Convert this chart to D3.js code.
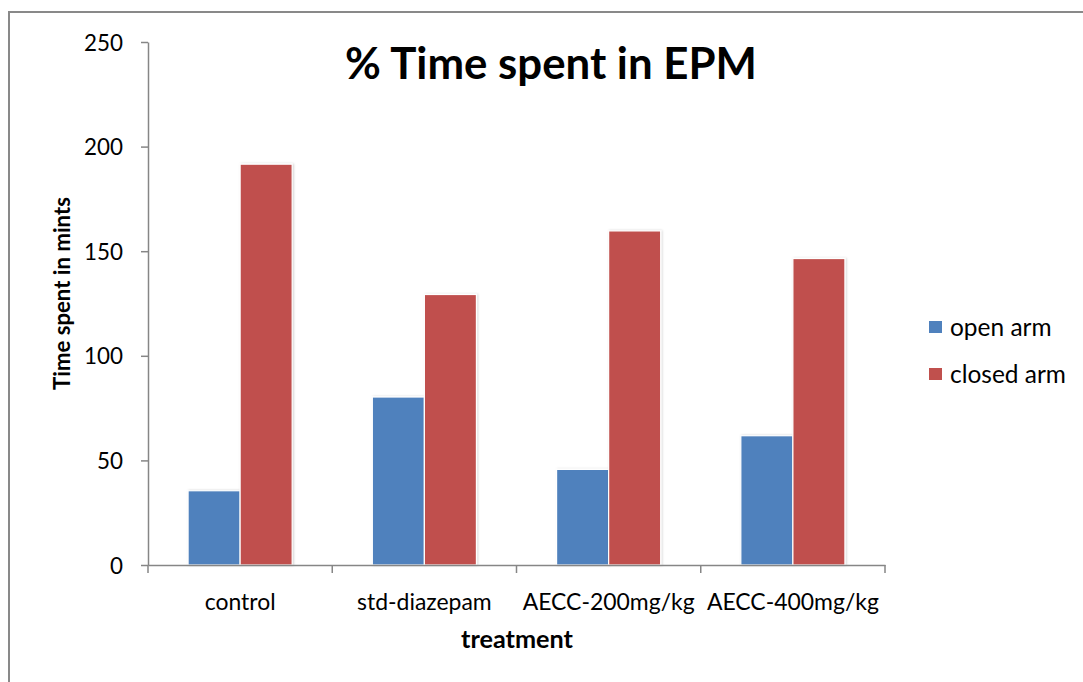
<!DOCTYPE html>
<html>
<head>
<meta charset="utf-8">
<script src="https://cdn.jsdelivr.net/npm/d3@7"></script>
<style>
  html, body { margin: 0; padding: 0; background: #fff; }
  svg { display: block; }
  text { font-family: Lato, "Open Sans", sans-serif; fill: #000; }
</style>
</head>
<body>
<svg id="chart" width="1083" height="682"></svg>
<script>
const categories = ["control", "std-diazepam", "AECC-200mg/kg", "AECC-400mg/kg"];
const seriesNames = ["open arm", "closed arm"];
const openArm = [35.5, 80.3, 45.7, 61.8];
const closedArm = [191.6, 129.3, 159.7, 146.5];
const yTicks = [0, 50, 100, 150, 200, 250];
const titleText = "% Time spent in EPM";
const xTitle = "treatment";
const yTitle = "Time spent in mints";
const colors = ["#4F81BD", "#C0504D"];

const seriesValues = [openArm, closedArm];

(function () {
const svg = d3.select("#chart");
const W = 1083, H = 682;
const pLeft = 148, pRight = 885, pTop = 42, pBottom = 565;

function fitSize(sel, refNode, target, base) {
  sel.attr("font-size", base);
  const w = refNode.getComputedTextLength();
  const s = base * target / w;
  sel.attr("font-size", s);
  return s;
}

svg.append("path")
  .attr("d", `M9,${H + 5} L9,12 L${W + 5},12`)
  .attr("fill", "none")
  .attr("stroke", "#898989")
  .attr("stroke-width", 2);

const x = d3.scaleBand().domain(categories).range([pLeft, pRight]).paddingInner(0).paddingOuter(0);
const x1 = d3.scaleBand().domain(seriesNames).range([0, x.bandwidth()]).paddingInner(0).paddingOuter(0.77);
const y = d3.scaleLinear().domain([0, 250]).range([pBottom, pTop]);

const defs = svg.append("defs");
const f = defs.append("filter").attr("id", "sh").attr("x", "-20%").attr("y", "-5%").attr("width", "140%").attr("height", "110%");
f.append("feDropShadow").attr("dx", 1).attr("dy", 0).attr("stdDeviation", 1.2).attr("flood-color", "#000").attr("flood-opacity", 0.18);

const groups = svg.append("g").selectAll("g")
  .data(categories)
  .join("g")
  .attr("transform", d => `translate(${x(d)},0)`);

groups.selectAll("rect")
  .data((c, i) => seriesNames.map((s, j) => ({ s, v: seriesValues[j][i], j })))
  .join("rect")
  .attr("x", d => x1(d.s))
  .attr("width", x1.bandwidth())
  .attr("y", d => y(d.v))
  .attr("height", d => y(0) - y(d.v))
  .attr("fill", d => colors[d.j])
  .attr("stroke", "#fff")
  .attr("stroke-width", 1.2)
  .attr("filter", "url(#sh)");

const yAxis = svg.append("g")
  .attr("transform", `translate(${pLeft},0)`)
  .call(d3.axisLeft(y).tickValues(yTicks).tickSize(7).tickPadding(18).tickSizeOuter(0));
yAxis.select(".domain").attr("stroke", "#868686").attr("stroke-width", 1.5);
yAxis.selectAll(".tick line").attr("stroke", "#868686").attr("stroke-width", 1.5);
const yt = yAxis.selectAll(".tick text").attr("font-family", "Lato, sans-serif").attr("fill", "#000").attr("dy", "0.36em");
fitSize(yt, yt.filter(d => d === 250).node(), 39, 20);

const xAxis = svg.append("g")
  .attr("transform", `translate(0,${pBottom})`)
  .call(d3.axisBottom(x).tickSize(0).tickPadding(0));
xAxis.select(".domain").attr("stroke", "#868686").attr("stroke-width", 1.5);
const xt = xAxis.selectAll(".tick text").attr("font-family", "Lato, sans-serif").attr("fill", "#000")
  .attr("dy", null).attr("y", 45);
fitSize(xt, xt.filter(d => d === "AECC-200mg/kg").node(), 172, 19);
const bounds = categories.map(c => x(c)).concat([x(categories[categories.length - 1]) + x.bandwidth()]);
xAxis.selectAll(".bound")
  .data(bounds)
  .join("line")
  .attr("class", "bound")
  .attr("x1", d => d).attr("x2", d => d)
  .attr("y1", 0).attr("y2", 8)
  .attr("stroke", "#868686").attr("stroke-width", 1.5);

const tt = svg.append("text")
  .attr("x", 551).attr("y", 79)
  .attr("text-anchor", "middle")
  .attr("font-weight", "bold")
  .text(titleText);
fitSize(tt, tt.node(), 412, 38);

const xtt = svg.append("text")
  .attr("x", 517).attr("y", 648)
  .attr("text-anchor", "middle")
  .attr("font-weight", "bold")
  .text(xTitle);
fitSize(xtt, xtt.node(), 112, 19);

const ytt = svg.append("text")
  .attr("transform", "translate(70,293.5) rotate(-90)")
  .attr("text-anchor", "middle")
  .attr("font-weight", "bold")
  .text(yTitle);
fitSize(ytt, ytt.node(), 193, 19);

const lg = svg.append("g").selectAll("g")
  .data(seriesNames)
  .join("g")
  .attr("transform", (d, i) => `translate(929,${321 + i * 47})`);
lg.append("rect").attr("width", 13).attr("height", 12).attr("fill", (d, i) => colors[i]);
const lt = lg.append("text").attr("x", 21).attr("y", 15).text(d => d);
fitSize(lt, lt.filter(d => d === "closed arm").node(), 116, 20);
})();
</script>
</body>
</html>
